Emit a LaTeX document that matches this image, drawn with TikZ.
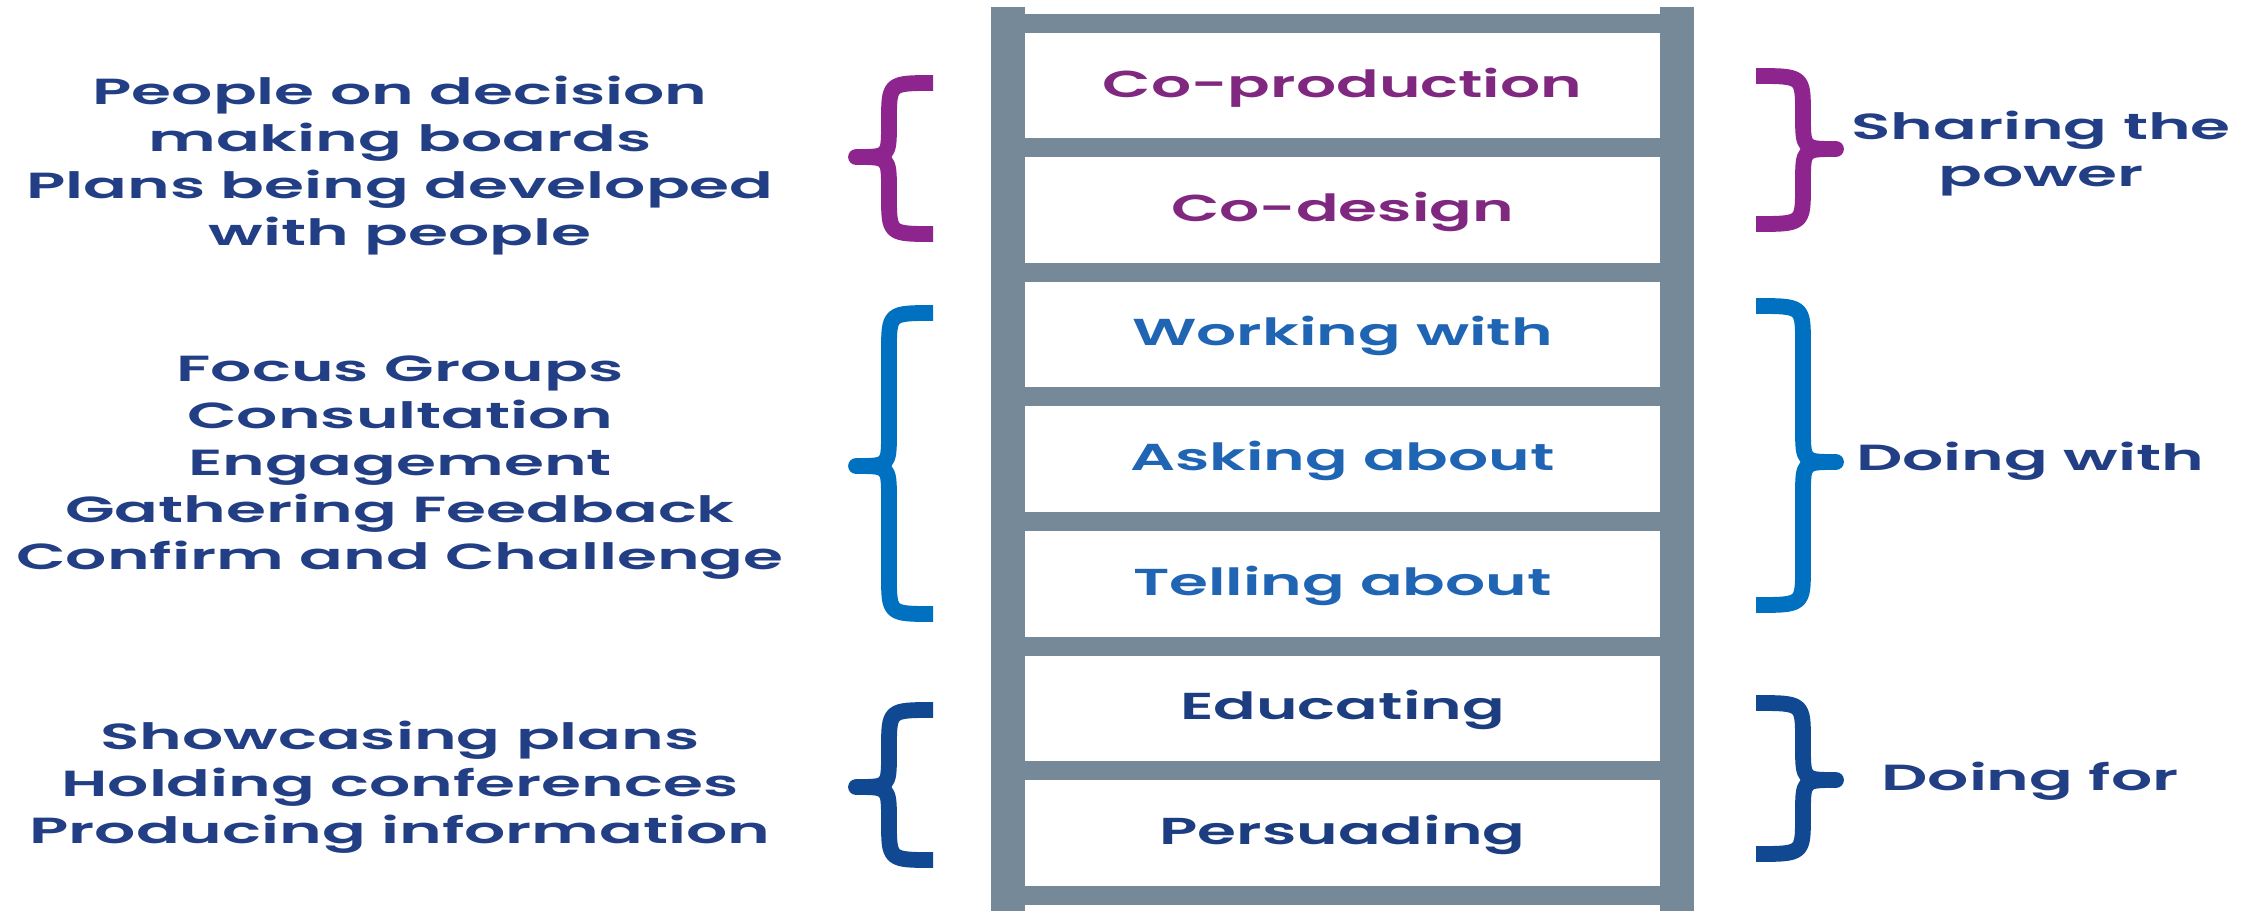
\documentclass[tikz,border=0pt]{standalone}
\usepackage{fontspec}
\setmainfont{Poppins}[FakeStretch=1.68, BoldFont={Poppins SemiBold}]
\newfontfamily\sidefam{Poppins}[FakeStretch=1.78, BoldFont={Poppins SemiBold}]
\definecolor{railc}{RGB}{117,137,152}
\definecolor{purp}{RGB}{142,36,142}
\definecolor{purptext}{RGB}{128,40,128}
\definecolor{midblue}{RGB}{0,112,192}
\definecolor{midtext}{RGB}{31,101,180}
\definecolor{darkblue}{RGB}{16,72,145}
\definecolor{darktext}{RGB}{28,62,128}
\definecolor{navy}{RGB}{34,62,132}
\tikzset{
  stepbox/.style={minimum width=19cm, minimum height=3cm, inner sep=0pt, align=center,
    font=\fontsize{32}{40}\selectfont\bfseries},
  sidetext/.style={align=center, inner sep=0pt, text=navy,
    font=\sidefam\fontsize{31}{40.1}\selectfont\bfseries},
  bracestroke/.style={line width=13.5pt, line join=round, line cap=butt},
  railpart/.style={fill=railc, draw=none}
}
\newcommand\LeftBraceAt[4]{%
  \draw[bracestroke,#1] (933,#2) .. controls (889,#2) .. (889,{#2+38})
    -- (889,{#3-34}) .. controls (889,#3) .. (856,#3)
    .. controls (889,#3) .. (889,{#3+34})
    -- (889,{#4-38}) .. controls (889,#4) .. (933,#4);}
\newcommand\RightBraceAt[4]{%
  \draw[bracestroke,#1] (1756,#2) .. controls (1803,#2) .. (1803,{#2+38})
    -- (1803,{#3-34}) .. controls (1803,#3) .. (1836,#3)
    .. controls (1803,#3) .. (1803,{#3+34})
    -- (1803,{#4-38}) .. controls (1803,#4) .. (1756,#4);}
\begin{document}
\begin{tikzpicture}[x=0.03cm,y=-0.03cm]
\useasboundingbox (0,0) rectangle (2257,911);
\fill[white] (0,0) rectangle (2257,911);
% rails
\fill[railpart] (991,7) rectangle (1025,911);
\fill[railpart] (1660,7) rectangle (1694,911);
% rungs
\foreach \yy in {23,147.6,272.2,396.8,521.4,646,770.6,895.2}
  \fill[railpart] (1025,{\yy-9.5}) rectangle (1660,{\yy+9.5});
% steps
\node[stepbox, text=purptext] (s1) at (1342.5,88) {Co-production};
\node[stepbox, text=purptext] (s2) at (1342.5,212) {Co-design};
\node[stepbox, text=midtext] (s3) at (1342.5,336) {Working with};
\node[stepbox, text=midtext] (s4) at (1342.5,461) {Asking about};
\node[stepbox, text=midtext] (s5) at (1342.5,585.5) {Telling about};
\node[stepbox, text=darktext] (s6) at (1342.5,710) {Educating};
\node[stepbox, text=darktext] (s7) at (1342.5,834.5) {Persuading};
% left texts
\node[sidetext] (l1) at (400,166) {People on decision\\making boards\\Plans being developed\\with people};
\node[sidetext] (l2) at (400,468) {Focus Groups\\Consultation\\Engagement\\Gathering Feedback\\Confirm and Challenge};
\node[sidetext] (l3) at (400,787) {Showcasing plans\\Holding conferences\\Producing information};
% right texts
\node[sidetext] (r1) at (2041,154) {Sharing the\\power};
\node[sidetext] (r2) at (2030,461) {Doing with};
\node[sidetext] (r3) at (2030,781) {Doing for};
% braces
\LeftBraceAt{purp}{83}{157}{234}
\LeftBraceAt{midblue}{313}{466}{614}
\LeftBraceAt{darkblue}{710}{787}{860}
\RightBraceAt{purp}{76}{149}{224}
\RightBraceAt{midblue}{306}{462}{605}
\RightBraceAt{darkblue}{703}{780}{854}
\end{tikzpicture}
\end{document}
